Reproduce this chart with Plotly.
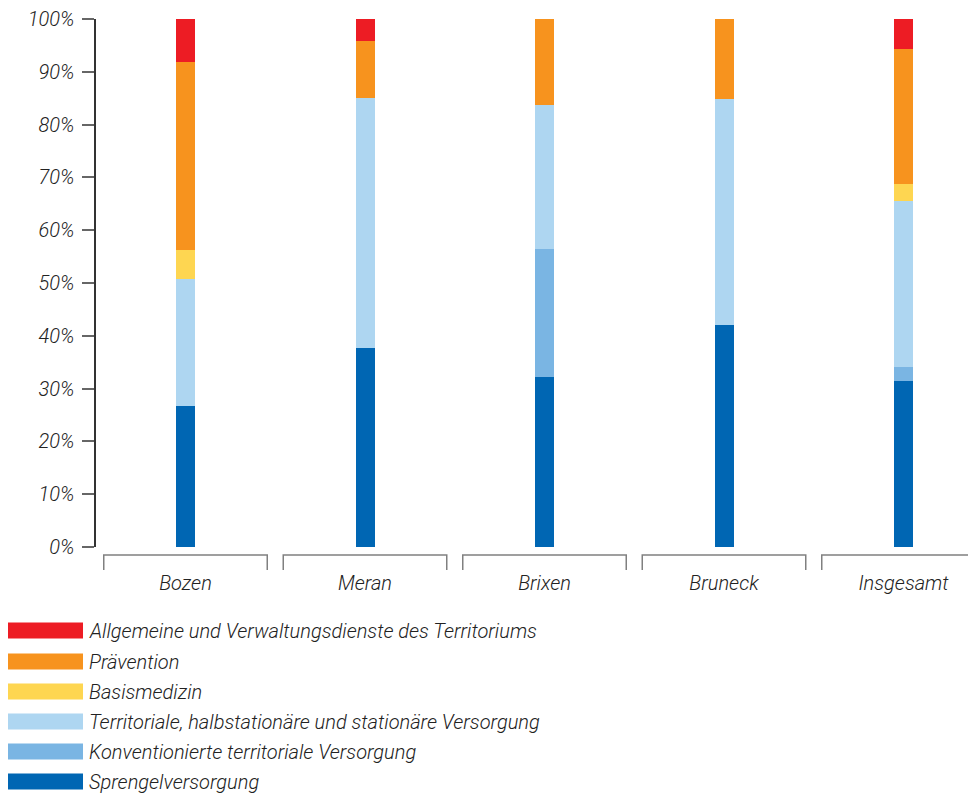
import plotly.graph_objects as go

# Anteile je Gebiet (in %), von unten nach oben gestapelt
categories = ["Bozen", "Meran", "Brixen", "Bruneck", "Insgesamt"]
series_names = [
    "Sprengelversorgung",
    "Konventionierte territoriale Versorgung",
    "Territoriale, halbstationäre und stationäre Versorgung",
    "Basismedizin",
    "Prävention",
    "Allgemeine und Verwaltungsdienste des Territoriums",
]
sprengel = [26.8, 37.7, 32.2, 42.1, 31.5]
konventioniert = [0.0, 0.0, 24.3, 0.0, 2.5]
territorial = [24.0, 47.4, 27.3, 42.8, 31.6]
basismedizin = [5.4, 0.0, 0.0, 0.0, 3.2]
praevention = [35.6, 10.8, 16.2, 15.1, 25.6]
verwaltung = [8.2, 4.1, 0.0, 0.0, 5.6]
y_ticks = [0, 10, 20, 30, 40, 50, 60, 70, 80, 90, 100]

series_values = [sprengel, konventioniert, territorial, basismedizin, praevention, verwaltung]
colors = ["#0066B3", "#7AB5E3", "#AED6F1", "#FED651", "#F7931E", "#ED1C24"]

FONT = "Liberation Sans Narrow, Roboto, Arial, sans-serif"
FS = 20
TXT = "#222222"
TEXT_FONT = dict(family=FONT, size=FS, color=TXT, style="italic", weight=300)

# the page body adds an 8px offset; screen pixel = figure pixel + 8
OFF = 8
W, H = 976 - OFF, 794 - OFF
L, R, T, B = 96 - OFF, 0, 19 - OFF, 794 - 547
PW, PH = W - L - R, H - T - B
STEP = 179.5  # px per category


def px_x(px):
    return (px - OFF - L) / PW


def px_y(py):
    return (H - B - (py - OFF)) / PH


fig = go.Figure()
for name, vals, col in zip(series_names, series_values, colors):
    fig.add_trace(go.Bar(x=categories, y=vals, name=name, marker_color=col,
                         marker_line_width=0, width=19 / STEP, showlegend=False))

x0 = -(185.5 - 96) / STEP
x1 = x0 + PW / STEP

shapes = []
inset = 8 / STEP
for i in range(len(categories)):
    a, b = i - 0.5 + inset, i + 0.5 - inset
    shapes.append(dict(type="path", xref="x", yref="paper",
                       path=f"M{a},{px_y(570)} L{a},{px_y(555)} L{b},{px_y(555)} L{b},{px_y(570)}",
                       line=dict(color="#808080", width=1.5)))

annotations = []
legend_rows = [630.5, 661.5, 691.5, 721.5, 751.5, 781.5]
for name, col, cy in zip(series_names[::-1], colors[::-1], legend_rows):
    shapes.append(dict(type="rect", xref="paper", yref="paper",
                       x0=px_x(8), x1=px_x(83), y0=px_y(cy + 8), y1=px_y(cy - 8),
                       fillcolor=col, line_width=0))
    annotations.append(dict(text=name, xref="paper", yref="paper", x=px_x(87), y=px_y(cy),
                            xanchor="left", yanchor="middle", showarrow=False,
                            font=TEXT_FONT))

fig.update_layout(
    width=W, height=H,
    margin=dict(l=L, r=R, t=T, b=B),
    barmode="stack",
    plot_bgcolor="white", paper_bgcolor="white",
    font=TEXT_FONT,
    shapes=shapes,
    annotations=annotations,
    xaxis=dict(range=[x0, x1], showline=False, showgrid=False, zeroline=False,
               ticks="outside", ticklen=18, tickcolor="rgba(0,0,0,0)",
               tickfont=TEXT_FONT),
    yaxis=dict(range=[0, 100], tickvals=y_ticks, ticktext=[f"{v}%" for v in y_ticks],
               showline=True, linecolor="#333333", linewidth=1.5,
               ticks="outside", ticklen=12, tickcolor="#666666", tickwidth=1.5,
               ticklabelstandoff=4, ticklabeloverflow="allow",
               showgrid=False, zeroline=False,
               tickfont=TEXT_FONT),
)

fig.write_html("out.html")
